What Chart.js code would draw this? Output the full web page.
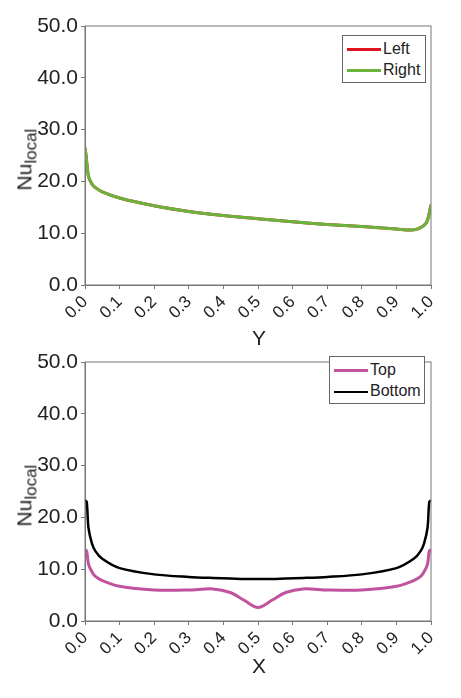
<!DOCTYPE html>
<html><head><meta charset="utf-8">
<script src="https://cdn.jsdelivr.net/npm/chart.js@4"></script>
<style>
body{margin:0;background:#fff;font-family:"Liberation Sans",Arial,sans-serif;color:#222}
.wrap{position:absolute;left:0;width:461px;height:349px}
canvas{position:absolute;left:0;top:0}
.ylab{position:absolute;left:-28px;top:145px;transform:rotate(-90deg);font-size:21px;font-weight:normal;width:110px;text-align:center}
.ylab sub{font-size:17px}
.xlab{position:absolute;left:252px;font-size:21px}
.leg{position:absolute;border:1px solid #666;background:#fff;font-size:16px;padding:2px 4px;line-height:21px;white-space:nowrap}
.leg span{display:inline-block;width:34px;height:2px;vertical-align:middle;margin-right:2px}
</style></head><body>
<div class="wrap" style="top:0"><canvas id="c1" width="461" height="349"></canvas>
<div class="ylab">Nu<sub>local</sub></div><div class="xlab" style="top:326px">Y</div>
<div class="leg" style="left:342px;top:35px;width:74px"><div><span style="background:#e0141e;height:3px"></span>Left</div><div><span style="background:#6ab43c;height:3px"></span>Right</div></div></div>
<div class="wrap" style="top:336px"><canvas id="c2" width="461" height="349"></canvas>
<div class="ylab">Nu<sub>local</sub></div><div class="xlab" style="top:318px">X</div>
<div class="leg" style="left:329px;top:20px;width:86px"><div><span style="background:#c0529e;height:3px"></span>Top</div><div><span style="background:#000"></span>Bottom</div></div></div>
<script>
const sideX = [0, 0.003, 0.01, 0.02, 0.03, 0.05, 0.1, 0.2, 0.3, 0.4, 0.5, 0.6, 0.7, 0.8, 0.9, 0.94, 0.96, 0.98, 0.99, 1.0];
const leftNu = [26.5, 25, 21, 19.5, 18.8, 18, 16.8, 15.3, 14.2, 13.4, 12.8, 12.2, 11.7, 11.3, 10.8, 10.6, 10.8, 11.5, 12.5, 15.5];
const rightNu = [26.5, 25, 21, 19.5, 18.8, 18, 16.8, 15.3, 14.2, 13.4, 12.8, 12.2, 11.7, 11.3, 10.8, 10.6, 10.8, 11.5, 12.5, 15.5];
const wallX = [0, 0.005, 0.01, 0.02, 0.03, 0.05, 0.1, 0.2, 0.3, 0.37, 0.42, 0.46, 0.5, 0.54, 0.58, 0.63, 0.7, 0.8, 0.9, 0.95, 0.97, 0.98, 0.99, 0.995, 1.0];
const topNu = [13.8, 13.5, 11, 9.5, 8.6, 7.8, 6.7, 6.0, 6.0, 6.2, 5.5, 4.0, 2.6, 4.0, 5.5, 6.2, 6.0, 6.0, 6.7, 7.8, 8.6, 9.5, 11, 13.5, 13.8];
const bottomNu = [23.3, 23, 18, 15, 13.5, 12, 10.2, 9.0, 8.5, 8.3, 8.2, 8.1, 8.1, 8.1, 8.2, 8.3, 8.5, 9.0, 10.2, 12, 13.5, 15, 18, 23, 23.3];
const xTicks = [0, 0.1, 0.2, 0.3, 0.4, 0.5, 0.6, 0.7, 0.8, 0.9, 1.0];

const pts = (xs, ys) => xs.map((x, i) => ({x, y: ys[i]}));
const box = {id: 'box', afterDraw(c) { const a = c.chartArea, g = c.ctx; g.save(); g.strokeStyle = '#777'; g.lineWidth = 1; g.strokeRect(a.left, a.top, a.right - a.left, a.bottom - a.top); g.restore(); }};

function makeChart(id, datasets) {
    new Chart(document.getElementById(id), {
        type: 'line',
        data: { datasets },
        plugins: [box],
        options: {
            responsive: false, animation: false,
            layout: { padding: { top: 26, right: 30 } },
            elements: { point: { radius: 0 }, line: { tension: 0.3 } },
            plugins: { legend: { display: false }, tooltip: { enabled: false } },
            scales: {
                x: { type: 'linear', min: 0, max: 1, afterFit: s => { s.height = 64; },
                    afterBuildTicks: s => { s.ticks = xTicks.map(v => ({value: v})); },
                    grid: { drawOnChartArea: false, tickLength: 4, color: '#777' }, border: { color: '#777' },
                    ticks: { minRotation: 45, maxRotation: 45, color: '#222', font: { family: 'Liberation Sans', size: 17 }, callback: v => v.toFixed(1) } },
                y: { min: 0, max: 50, afterFit: s => { s.width = 85; },
                    grid: { drawOnChartArea: false, tickLength: 4, color: '#777' }, border: { color: '#777' },
                    ticks: { stepSize: 10, color: '#222', font: { family: 'Liberation Sans', size: 21 }, callback: v => v.toFixed(1) } }
            }
        }
    });
}

makeChart('c1', [
    { label: 'Left', data: pts(sideX, leftNu), borderColor: '#e0141e', borderWidth: 3, order: 2 },
    { label: 'Right', data: pts(sideX, rightNu), borderColor: '#6ab43c', borderWidth: 3, order: 1 }
]);
makeChart('c2', [
    { label: 'Top', data: pts(wallX, topNu), borderColor: '#c0529e', borderWidth: 3 },
    { label: 'Bottom', data: pts(wallX, bottomNu), borderColor: '#000', borderWidth: 2.5 }
]);
</script></body></html>
